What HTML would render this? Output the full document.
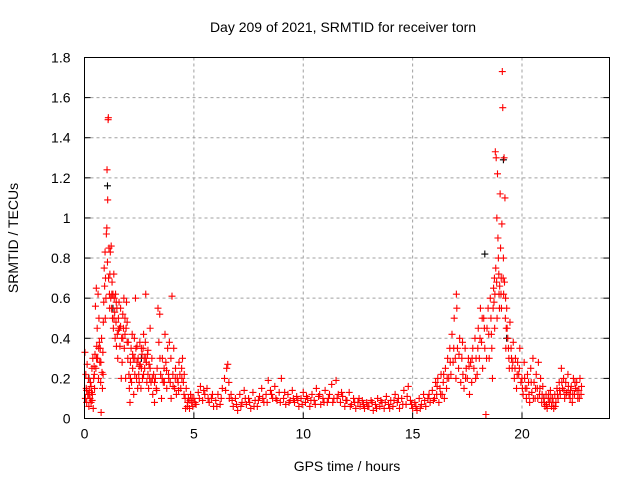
<!DOCTYPE html>
<html><head><meta charset="utf-8"><style>
html,body{margin:0;padding:0;background:#fff}
svg{display:block}
text{font-family:"Liberation Sans",sans-serif;font-size:14px;fill:#000}
</style></head><body>
<svg id="chart" width="640" height="480">
<text x="343" y="32" text-anchor="middle">Day 209 of 2021, SRMTID for receiver torn</text>
<text x="347" y="471" text-anchor="middle">GPS time / hours</text>
<text transform="translate(18,238) rotate(-90)" text-anchor="middle">SRMTID / TECUs</text>
<g id="grid"></g>
<g id="ticks"></g>
<g id="marks"></g>
<rect x="84.5" y="57.5" width="525" height="361" fill="none" stroke="#000" stroke-width="1"/>
</svg>
<script>
const xTicks=[0,5,10,15,20];
const yTicks=[0,0.2,0.4,0.6,0.8,1,1.2,1.4,1.6,1.8];
const yTickLabels=["0","0.2","0.4","0.6","0.8","1","1.2","1.4","1.6","1.8"];
const blackPoints=[[0.2,0.2],[1.05,1.16],[1.3,0.55],[2.6,0.3],[18.3,0.82],[19.15,1.29],[19.3,0.4],[21,0.1]];
const redPoints=[
[0.02,0.33],[0.04,0.1],[0.06,0.22],[0.08,0.15],[0.1,0.08],[0.12,0.27],[0.15,0.12],[0.18,0.2],[0.2,0.06],[0.22,0.14],[0.25,0.1],[0.27,0.18],[0.3,0.08],[0.32,0.13],[0.34,0.25],[0.36,0.12],[0.38,0.3],[0.4,0.05],[0.42,0.2],[0.44,0.26],[0.46,0.15],[0.48,0.32],
[0.5,0.56],[0.52,0.25],[0.54,0.65],[0.56,0.36],[0.58,0.45],[0.6,0.3],[0.62,0.62],[0.64,0.2],[0.66,0.5],[0.68,0.38],[0.7,0.28],[0.72,0.35],[0.74,0.18],[0.76,0.03],[0.78,0.4],[0.8,0.23],[0.82,0.15],[0.84,0.33],[0.86,0.48],[0.88,0.58],[0.9,0.75],[0.92,0.66],[0.94,0.83],[0.96,0.7],[0.98,0.6],[1.0,0.92],
[1.02,0.95],[1.03,1.24],[1.06,1.09],[1.08,1.49],[1.09,1.5],[1.05,0.78],[1.1,0.7],[1.12,0.85],[1.14,0.62],[1.16,0.72],[1.18,0.83],[1.2,0.6],
[1.22,0.86],[1.24,0.55],[1.26,0.68],[1.28,0.5],[1.3,0.62],[1.32,0.45],[1.34,0.72],[1.36,0.6],[1.38,0.53],[1.4,0.4],[1.42,0.62],[1.44,0.48],[1.46,0.36],[1.48,0.55],[1.5,0.42],[1.52,0.3],[1.55,0.5],[1.58,0.58],[1.6,0.45],[1.62,0.36],[1.65,0.55],[1.68,0.2],[1.7,0.4],[1.72,0.28],[1.75,0.52],[1.78,0.45],[1.8,0.6],[1.82,0.35],[1.85,0.5],[1.88,0.2],[1.9,0.45],[1.92,0.58],[1.95,0.48],[1.98,0.3],
[2.0,0.38],[2.03,0.22],[2.05,0.15],[2.08,0.08],[2.1,0.28],[2.13,0.35],[2.15,0.18],[2.18,0.42],[2.2,0.25],[2.23,0.3],[2.25,0.12],[2.28,0.4],[2.3,0.22],[2.33,0.6],[2.35,0.35],[2.38,0.2],[2.4,0.28],[2.43,0.15],[2.45,0.3],[2.48,0.22],[2.5,0.18],[2.53,0.38],[2.55,0.27],[2.58,0.15],[2.6,0.25],[2.63,0.32],[2.65,0.2],[2.68,0.35],[2.7,0.42],[2.73,0.3],[2.75,0.25],[2.78,0.38],[2.8,0.62],[2.83,0.28],[2.85,0.18],[2.88,0.32],[2.9,0.22],[2.93,0.15],[2.95,0.27],[2.98,0.2],
[3.0,0.45],[3.04,0.18],[3.08,0.3],[3.12,0.12],[3.16,0.22],[3.2,0.08],[3.24,0.2],[3.28,0.15],[3.32,0.25],[3.36,0.55],[3.4,0.38],[3.44,0.52],[3.48,0.22],[3.52,0.1],[3.56,0.3],[3.6,0.18],[3.64,0.25],[3.68,0.42],[3.72,0.28],[3.76,0.15],[3.8,0.35],[3.84,0.22],[3.88,0.38],[3.92,0.18],[3.96,0.1],[4.0,0.61],[4.04,0.22],[4.08,0.35],[4.12,0.15],[4.16,0.25],[4.2,0.12],[4.24,0.2],[4.28,0.18],[4.32,0.28],[4.36,0.22],[4.4,0.15],[4.44,0.25],[4.48,0.3],[4.52,0.18],[4.56,0.22],
[4.6,0.1],[4.65,0.15],[4.7,0.06],[4.75,0.1],[4.8,0.05],[4.85,0.12],[4.9,0.08],[4.95,0.06],
[5.0,0.1],[5.1,0.07],[5.2,0.13],[5.3,0.16],[5.4,0.09],[5.5,0.12],[5.6,0.15],[5.7,0.08],[5.8,0.1],[5.9,0.06],[6.0,0.09],[6.1,0.12],[6.2,0.07],[6.3,0.15],[6.4,0.2],[6.5,0.25],[6.55,0.27],[6.6,0.18],[6.7,0.12],[6.8,0.06],[6.9,0.1],[7.0,0.04],[7.1,0.12],[7.2,0.08],[7.3,0.14],[7.4,0.07],[7.5,0.1],[7.6,0.05],[7.7,0.13],[7.8,0.09],[7.9,0.06],[8.0,0.11],[8.1,0.15],[8.2,0.08],[8.3,0.12],[8.4,0.19],[8.5,0.14],[8.6,0.1],[8.7,0.16],[8.8,0.09],[8.9,0.13],[9.0,0.2],[9.1,0.1],[9.2,0.07],[9.3,0.12],[9.4,0.09],[9.5,0.14],[9.6,0.08],[9.7,0.11],[9.8,0.06],[9.9,0.1],[10.0,0.13],[10.1,0.08],[10.2,0.1],[10.3,0.06],[10.4,0.12],[10.5,0.09],[10.6,0.15],[10.7,0.11],[10.8,0.07],[10.9,0.1],[11.0,0.14],[11.1,0.08],[11.2,0.12],[11.3,0.17],[11.4,0.1],[11.5,0.19],[11.6,0.12],[11.7,0.08],[11.8,0.11],[11.9,0.06],[12.0,0.09],[12.1,0.13],[12.2,0.07],[12.3,0.1],[12.4,0.05],[12.5,0.08],[12.6,0.06],[12.7,0.09],[12.8,0.05],[12.9,0.08],[13.0,0.06],[13.1,0.09],[13.2,0.04],[13.3,0.07],[13.4,0.1],[13.5,0.06],[13.6,0.08],[13.7,0.05],[13.8,0.11],[13.9,0.07],[14.0,0.09],[14.1,0.06],[14.2,0.12],[14.3,0.08],[14.4,0.05],[14.5,0.1],[14.6,0.14],[14.7,0.07],[14.8,0.16],[14.9,0.09],[15.0,0.05],[15.1,0.08],[15.2,0.04],[15.3,0.1],[15.4,0.07],[15.5,0.12],[15.6,0.06],[15.7,0.1],[15.8,0.08],[15.9,0.14],
[16.0,0.1],[16.05,0.18],[16.1,0.12],[16.15,0.2],[16.2,0.08],[16.25,0.15],[16.3,0.22],[16.35,0.12],[16.4,0.18],[16.45,0.1],[16.5,0.25],[16.55,0.15],[16.6,0.3],[16.65,0.2],[16.7,0.35],[16.75,0.22],[16.8,0.42],[16.85,0.28],[16.9,0.5],[16.95,0.3],[17.0,0.62],[17.02,0.55],[17.05,0.35],[17.1,0.25],[17.15,0.4],[17.2,0.18],[17.25,0.3],[17.3,0.22],[17.35,0.15],[17.4,0.35],[17.45,0.25],[17.5,0.2],[17.55,0.3],[17.6,0.12],[17.65,0.28],[17.7,0.18],[17.75,0.35],[17.8,0.25],[17.85,0.4],[17.9,0.3],[17.95,0.22],
[18.0,0.45],[18.05,0.3],[18.1,0.55],[18.15,0.38],[18.2,0.25],[18.25,0.5],[18.3,0.35],[18.35,0.02],[18.4,0.45],[18.45,0.55],[18.5,0.3],[18.55,0.6],[18.6,0.42],[18.65,0.2],[18.7,0.65],[18.72,0.58],[18.75,0.45],[18.78,1.33],[18.8,0.75],[18.82,1.3],[18.85,1.0],[18.88,1.22],[18.9,0.9],[18.92,0.8],[18.95,0.62],[18.97,0.55],[19.0,1.12],[19.02,0.85],[19.05,0.7],[19.08,0.97],[19.1,1.73],[19.12,1.55],[19.15,0.8],[19.18,1.3],[19.2,0.68],[19.22,1.1],[19.25,0.6],[19.28,0.45],[19.3,0.55],
[19.35,0.4],[19.4,0.3],[19.45,0.48],[19.5,0.35],[19.55,0.25],[19.6,0.38],[19.65,0.2],[19.7,0.3],[19.75,0.15],[19.8,0.28],[19.85,0.22],[19.9,0.35],
[20.0,0.2],[20.05,0.12],[20.1,0.28],[20.15,0.15],[20.2,0.1],[20.25,0.22],[20.3,0.18],[20.35,0.08],[20.4,0.25],[20.45,0.13],[20.5,0.3],[20.55,0.18],[20.6,0.1],[20.65,0.22],[20.7,0.15],[20.75,0.28],[20.8,0.12],[20.85,0.2],[20.9,0.08],[20.95,0.16],[21.0,0.1],[21.05,0.06],[21.1,0.12],[21.15,0.05],[21.2,0.1],[21.25,0.08],[21.3,0.14],[21.35,0.06],[21.4,0.1],[21.45,0.05],[21.5,0.12],[21.55,0.08],[21.6,0.15],[21.65,0.1],[21.7,0.18],[21.75,0.12],[21.8,0.25],[21.85,0.15],[21.9,0.2],[21.95,0.1],[22.0,0.18],[22.05,0.13],[22.1,0.22],[22.15,0.12],[22.2,0.1],[22.25,0.16],[22.3,0.08],[22.35,0.2],[22.4,0.12],[22.45,0.15],[22.5,0.18],[22.55,0.1],[22.6,0.14],[22.65,0.2],[22.7,0.12]
];
const extraRedPoints=[
[0.1,0.14],[0.2,0.12],[0.3,0.16],[0.35,0.09],[0.45,0.22],[0.55,0.3],[0.65,0.35],[0.75,0.28],[0.85,0.22],[0.95,0.5],[1.15,0.55],[1.25,0.62],[1.35,0.5],[1.45,0.58],[1.55,0.44],[1.65,0.46],[1.75,0.4],[1.85,0.42],[1.95,0.38],
[2.1,0.2],[2.2,0.32],[2.3,0.3],[2.4,0.36],[2.5,0.26],[2.6,0.35],[2.7,0.22],[2.8,0.3],[2.9,0.34],[3.0,0.25],[3.1,0.2],[3.2,0.18],[3.3,0.14],[3.45,0.3],[3.55,0.2],[3.65,0.18],[3.75,0.24],[3.85,0.2],[3.95,0.3],[4.05,0.16],[4.15,0.2],[4.3,0.14],[4.45,0.2],[4.55,0.12],[4.62,0.05],[4.72,0.08],[4.82,0.09],[4.92,0.1],
[5.05,0.08],[5.25,0.1],[5.45,0.14],[5.65,0.1],[5.85,0.12],[6.05,0.06],[6.25,0.1],[6.45,0.14],[6.62,0.1],[6.75,0.09],[6.95,0.07],[7.15,0.06],[7.35,0.1],[7.55,0.08],[7.75,0.06],[7.95,0.09],[8.15,0.1],[8.35,0.08],[8.55,0.12],[8.75,0.1],[8.95,0.08],[9.15,0.13],[9.35,0.08],[9.55,0.1],[9.75,0.09],[9.95,0.07],[10.15,0.11],[10.35,0.09],[10.55,0.07],[10.75,0.12],[10.95,0.08],[11.15,0.1],[11.35,0.08],[11.55,0.1],[11.75,0.13],[11.95,0.09],[12.15,0.06],[12.35,0.08],[12.55,0.1],[12.75,0.07],[12.95,0.06],[13.15,0.08],[13.35,0.05],[13.55,0.09],[13.75,0.08],[13.95,0.05],[14.15,0.09],[14.35,0.1],[14.55,0.07],[14.75,0.11],[14.95,0.07],[15.15,0.06],[15.35,0.05],[15.55,0.09],[15.75,0.12],[15.95,0.09],
[16.12,0.16],[16.28,0.12],[16.42,0.22],[16.58,0.2],[16.72,0.28],[16.88,0.35],[16.98,0.2],[17.12,0.32],[17.28,0.38],[17.42,0.2],[17.58,0.26],[17.72,0.3],[17.88,0.2],[17.98,0.35],[18.08,0.4],[18.18,0.5],[18.28,0.45],[18.38,0.3],[18.48,0.42],[18.58,0.5],[18.62,0.35],[18.68,0.55],[18.74,0.7],[18.76,0.62],[18.84,0.68],[18.86,0.5],[18.94,0.72],[18.98,0.66],[19.04,0.62],[19.06,0.55],[19.14,0.7],[19.16,0.62],[19.24,0.5],[19.26,0.35],[19.32,0.45],[19.38,0.35],[19.42,0.25],[19.52,0.3],[19.58,0.28],[19.68,0.25],[19.78,0.22],[19.88,0.25],[19.95,0.18],
[20.02,0.15],[20.12,0.2],[20.22,0.15],[20.32,0.12],[20.42,0.18],[20.52,0.1],[20.62,0.15],[20.72,0.1],[20.82,0.15],[20.92,0.12],[21.02,0.08],[21.12,0.07],[21.22,0.12],[21.32,0.1],[21.42,0.08],[21.52,0.06],[21.62,0.12],[21.72,0.14],[21.82,0.18],[21.92,0.14],[22.02,0.12],[22.12,0.16],[22.22,0.14],[22.32,0.12],[22.42,0.18],[22.52,0.14],[22.62,0.1],[22.72,0.16]
];
const NS='http://www.w3.org/2000/svg';
const X0=84.5,X1=609.5,XMAX=24,Y0=418.5,Y1=57.5,YMAX=1.8;
function sx(t){return X0+(X1-X0)*t/XMAX;}
function sy(v){return Y0-(Y0-Y1)*v/YMAX;}
const grid=document.getElementById('grid'),ticks=document.getElementById('ticks'),marks=document.getElementById('marks');
function mk(tag,attrs,parent){const e=document.createElementNS(NS,tag);for(const k in attrs)e.setAttribute(k,attrs[k]);parent.appendChild(e);return e;}
xTicks.forEach(function(t){
  const x=sx(t);
  if(t>0){const g=mk('line',{x1:x,x2:x,y1:Y1,y2:Y0,stroke:'#a0a0a0','stroke-dasharray':'3,3'},grid);
  
  }
  const tk=mk('line',{x1:x,x2:x,y1:Y0,y2:Y0-6,stroke:'#000'},ticks);
  
  
  const lb=mk('text',{x:x,y:Y0+20,'text-anchor':'middle'},ticks);lb.textContent=String(t);
  
  
});
yTicks.forEach(function(v,i){
  const y=sy(v);
  if(v>0&&v<YMAX){const g=mk('line',{x1:X0,x2:X1,y1:y,y2:y,stroke:'#a0a0a0','stroke-dasharray':'3,3'},grid);
  
  }
  const tk=mk('line',{x1:X0,x2:X0+6,y1:y,y2:y,stroke:'#000'},ticks);
  
  
  const tk2=mk('line',{x1:X1,x2:X1-6,y1:y,y2:y,stroke:'#000'},ticks);
  
  
  const lb=mk('text',{x:X0-14,y:y+5,'text-anchor':'end'},ticks);lb.textContent=yTickLabels[i];
  
  
});
function plus(p,color,name){
  const x=sx(p[0]),y=sy(p[1]);
  const e=mk('path',{d:'M'+(x-3.5)+' '+y+'H'+(x+3.5)+'M'+x+' '+(y-3.5)+'V'+(y+3.5),stroke:color,'stroke-width':1.1,fill:'none'},marks);
  
  
}
blackPoints.forEach(function(p){plus(p,'#000','black-point');});
redPoints.forEach(function(p){plus(p,'#ff0000','red-point');});
extraRedPoints.forEach(function(p){plus(p,'#ff0000','red-point');});
</script>
</body></html>
